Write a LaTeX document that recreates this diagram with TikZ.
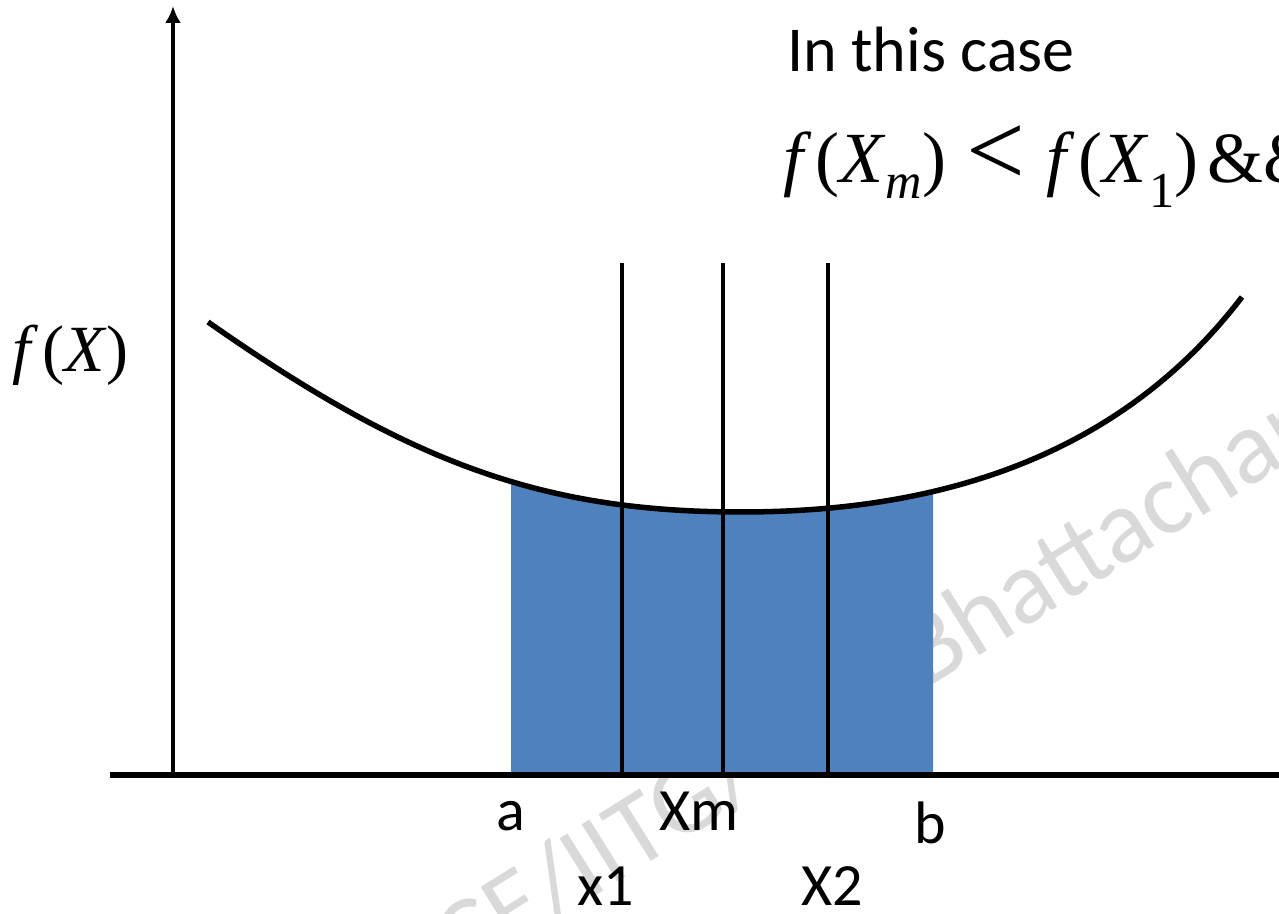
\documentclass[tikz,border=0pt]{standalone}
\usepackage{fontspec}
\setmainfont{Carlito}
\newfontfamily\cambria{Liberation Serif}
\usepackage{graphicx}
\usepackage{tikz}
\usetikzlibrary{arrows.meta,positioning}
\definecolor{bowlblue}{RGB}{79,129,189}
\definecolor{wmgray}{RGB}{217,217,217}
% the bowl shaped f(X), in pixel units
\newcommand{\bowlcurve}{(208,591) .. controls (408,451) and (541,401) .. (741,401) .. controls (921,401) and (1112,446) .. (1242,616)}
\newcommand{\fofx}[1]{\textit{f}\kern0.05em(\textit{X}\textsubscript{#1})}
\newcommand{\lessop}{\hspace{0.28em}\raisebox{-0.04em}{\scalebox{1.45}{<}}\hspace{0.3em}}

\begin{document}
\begin{tikzpicture}[x=1pt, y=1pt,
  lbl/.style={font=\fontsize{60}{60}\selectfont, inner sep=0pt},
  wm/.style={font=\fontsize{105}{105}\selectfont, text=wmgray, rotate=32, inner sep=0pt},
  axis/.style={line width=3.5pt},
  probe/.style={line width=3.3pt}]
\useasboundingbox (0,0) rectangle (1279,913);
\clip (0,0) rectangle (1279,913);
% watermark
\node[wm, anchor=base east] (wmleft) at (765,123) {CE/IITG/};
\node[wm, anchor=base west] (wmright) at (925,223) {Bhattacharya};
% interval [a,b] under the curve
\begin{scope}
\clip (511,138) rectangle (933,700);
\fill[bowlblue] \bowlcurve -- (1242,138) -- (208,138) -- cycle;
\end{scope}
% curve
\draw[line width=5.5pt] \bowlcurve;
% axes
\draw[axis, line width=6pt] (110,138) -- (1279,138);
\draw[axis, -{Latex[length=17pt,width=16pt]}] (173,138) -- (173,907);
% x1, Xm, X2
\foreach \xp in {622,723,828}
  \draw[probe] (\xp,138) -- (\xp,650);
% labels
\node[lbl, anchor=base] (la) at (511,83) {a};
\node[lbl, anchor=base] (lxm) at (699,83) {Xm};
\node[lbl, anchor=base] (lb) at (930,70) {b};
\node[lbl, anchor=base] (lx1) at (606,8) {x1};
\node[lbl, anchor=base] (lx2) at (832,8) {X2};
\node[lbl, anchor=base west, font=\fontsize{64}{64}\selectfont] (case) at (787,841) {In this case};
\node[anchor=base west, inner sep=0pt, font=\cambria\fontsize{72}{72}\selectfont] (cond) at (783,730) {\fofx{\textit{m}}\lessop\fofx{1}\hspace{0.12em}\&\&};
\node[anchor=base west, inner sep=0pt, font=\cambria\fontsize{66}{66}\selectfont] (fx) at (12,541) {\textit{f}\kern0.06em(\textit{X})};
\end{tikzpicture}
\end{document}
